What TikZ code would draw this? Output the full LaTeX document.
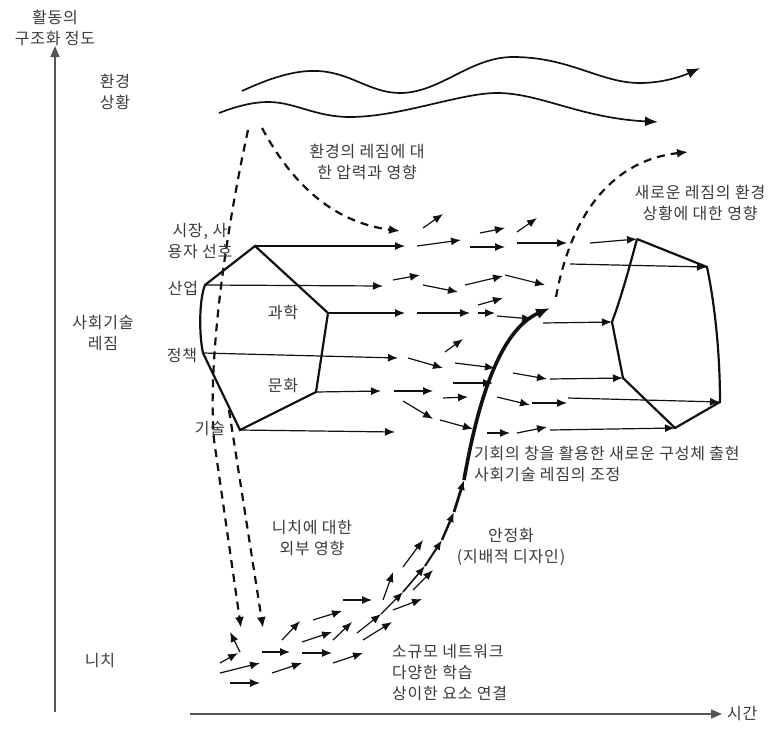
\documentclass[tikz,border=0pt]{standalone}
\usepackage{fontspec}
\setmainfont[LetterSpace=5]{Noto Sans CJK KR}
\usepackage{xcolor}
\usetikzlibrary{arrows.meta}
\definecolor{mlpInk}{HTML}{111111}
\definecolor{mlpText}{HTML}{3A3A3A}
\definecolor{mlpAxis}{HTML}{555555}
\tikzset{
  lbl/.style={font=\fontsize{16}{21}\selectfont, text=mlpText, align=center, inner sep=0pt},
  axisline/.style={-{Triangle[length=11pt,width=9pt]}, line width=1.6pt, draw=mlpAxis},
  wave/.style={-{Latex[length=13pt,width=10pt]}, line width=1.7pt, draw=mlpInk},
  flow/.style={-{Latex[length=10pt,width=8pt]}, line width=1.2pt, draw=mlpInk},
  influence/.style={-{Latex[length=11pt,width=9pt]}, line width=2.2pt, draw=mlpInk, dash pattern=on 8pt off 6pt},
  regimeline/.style={line width=2.2pt, draw=mlpInk, line join=miter},
  breakthrough/.style={-{Latex[length=14pt,width=11pt]}, line width=3.6pt, draw=mlpInk}
}

\begin{document}
\begin{tikzpicture}[x=1pt,y=-1pt]
\useasboundingbox (0,0) rectangle (784,753);

% axes
\coordinate (ybot) at (55,712);
\coordinate (ytop) at (55,46);
\coordinate (xleft) at (190,714);
\coordinate (xright) at (722,714);
\draw[axisline] (ybot) -- (ytop);
\draw[axisline] (xleft) -- (xright);
\node[lbl] (ylabel) at (55,28) {활동의\\구조화 정도};
\node[lbl, anchor=west] (xlabel) at (727,714) {시간};

\node[lbl] (land) at (115,92) {환경\\상황};
\node[lbl] (regime) at (103,333) {사회기술\\레짐};
\node[lbl] (niche) at (100,660) {니치};

% landscape
\draw[wave] (242,91) .. controls (270,78) and (295,70) .. (317,71)
  .. controls (350,72) and (370,93) .. (400,93)
  .. controls (440,93) and (470,57) .. (513,57)
  .. controls (570,57) and (600,83) .. (640,83)
  .. controls (665,83) and (685,75) .. (700,68);
\draw[wave] (219,113) .. controls (240,105) and (255,102) .. (268,102)
  .. controls (295,102) and (315,117) .. (350,117)
  .. controls (400,117) and (460,93) .. (497,93)
  .. controls (540,93) and (580,118) .. (658,122);

% dashed influences
\coordinate (landfoot) at (248,130);
\coordinate (landpress) at (262,128);
\draw[influence] (landpress) .. controls (290,180) and (330,222) .. (400,231);
\draw[influence] (landfoot) .. controls (222,250) and (208,370) .. (214,440) -- (241,628);
\draw[influence] (229,410) -- (263,628);

% old regime
\coordinate (ind) at (205,285);
\coordinate (top) at (255,246);
\coordinate (sci) at (328,313);
\coordinate (cul) at (316,392);
\coordinate (tech) at (240,430);
\coordinate (pol) at (203,353);
\draw[regimeline] (ind) -- (top) -- (sci) -- (cul) -- (tech) -- (pol)
  .. controls (199,335) and (199,300) .. (ind) -- cycle;

\node[lbl] (market) at (200,241) {시장, 사\\용자 선호};
\node[lbl] (industry) at (183,288) {산업};
\node[lbl] (policy) at (182,356) {정책};
\node[lbl] (science) at (283,312) {과학};
\node[lbl] (culture) at (283,385) {문화};
\node[lbl] (techno) at (210,428) {기술};

\draw[flow] (top) -- (405,246);
\draw[flow] (ind) -- (383,286);
\draw[flow] (sci) -- (405,313);
\draw[flow] (pol) -- (398,358);
\draw[flow] (cul) -- (381,391);
\draw[flow] (tech) -- (395,432);

% destabilised regime
\foreach \ax/\ay/\bx/\by in {
  423/228/443/214, 417/246/461/240, 470/247/505/247, 480/233/505/228,
  517/232/537/218, 517/243/567/243, 393/280/420/275, 423/285/458/292,
  465/285/503/276, 505/275/545/285, 417/313/470/313, 478/305/503/298,
  478/313/495/313, 497/316/532/319, 445/352/463/339, 408/358/443/368,
  455/363/495/368, 453/383/493/383, 513/373/547/379, 394/391/433/391,
  403/401/433/419, 443/398/468/397, 497/397/530/405, 532/403/567/403,
  440/420/473/429, 487/433/510/433, 517/433/547/427}
  \draw[flow] (\ax,\ay) -- (\bx,\by);

% new regime
\coordinate (nr1) at (637,239);
\coordinate (nr2) at (707,267);
\coordinate (nr3) at (720,402);
\coordinate (nr4) at (675,428);
\coordinate (nr5) at (623,378);
\coordinate (nr6) at (612,322);
\draw[regimeline] (nr1) -- (nr2) .. controls (716,310) and (720,360) .. (nr3)
  -- (nr4) -- (nr5) -- (nr6) .. controls (622,295) and (630,265) .. (nr1);

\draw[flow] (590,243) -- (nr1);
\draw[flow] (570,264) -- (nr2);
\draw[flow] (543,323) -- (nr6);
\draw[flow] (550,379) -- (nr5);
\draw[flow] (568,398) -- (nr3);
\draw[flow] (550,430) -- (nr4);

\draw[influence] (556,297) .. controls (572,210) and (615,160) .. (688,152);

% niche
\foreach \ax/\ay/\bx/\by in {
  220/663/238/653, 240/652/230/632, 220/673/260/663, 230/683/260/683,
  262/652/290/652, 272/673/302/663, 282/640/300/621, 302/642/332/632,
  302/653/332/653, 313/620/342/611, 333/640/352/622, 333/663/363/653,
  343/600/372/600, 363/640/392/622, 383/600/393/572, 393/610/422/599,
  413/590/433/570, 403/567/423/540}
  \draw[flow] (\ax,\ay) -- (\bx,\by);

\coordinate (c0) at (357,633);
\coordinate (c1) at (381,614);
\coordinate (c2) at (403,592);
\coordinate (c3) at (425,566);
\coordinate (c4) at (442,540);
\coordinate (c5) at (454,512);
\coordinate (c6) at (464,480);
\coordinate (breakout) at (550,308);
\draw[flow] (c0) -- (c1);
\draw[flow] (c1) -- (c2);
\draw[flow, line width=1.6pt] (c2) -- (c3);
\draw[flow, line width=2pt] (c3) -- (c4);
\draw[flow, line width=2.4pt] (c4) -- (c5);
\draw[flow, line width=2.8pt] (c5) -- (c6);
\draw[breakthrough] (c6) .. controls (478,400) and (500,330) .. (breakout);

% texts
\node[lbl] (pressure) at (367,162) {환경의 레짐에 대\\한 압력과 영향};
\node[lbl] (feedback) at (700,203) {새로운 레짐의 환경\\상황에 대한 영향};
\node[lbl, align=left, anchor=west] (window) at (474,464) {기회의 창을 활용한 새로운 구성체 출현\\사회기술 레짐의 조정};
\node[lbl] (stable) at (511,547) {안정화\\(지배적 디자인)};
\node[lbl] (external) at (312,538) {니치에 대한\\외부 영향};
\node[lbl, align=left, anchor=west] (smallnet) at (392,673) {소규모 네트워크\\다양한 학습\\상이한 요소 연결};
\end{tikzpicture}
\end{document}
